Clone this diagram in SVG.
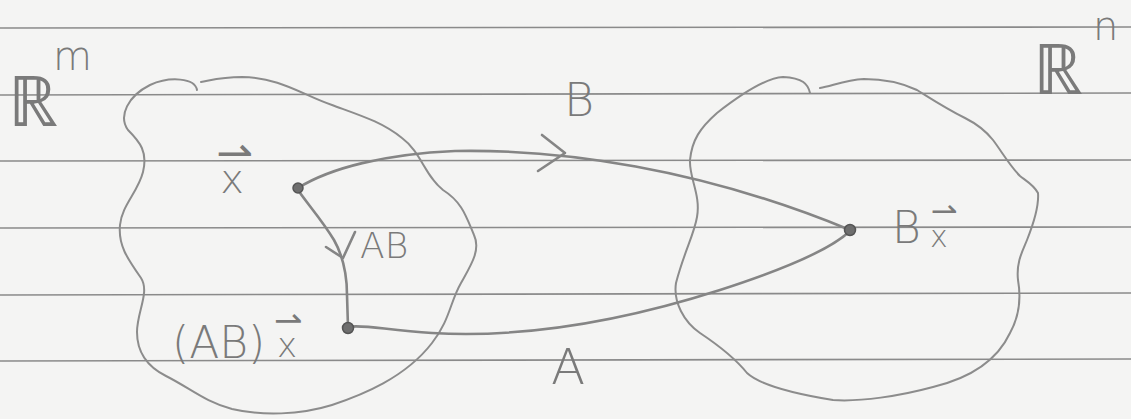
<svg xmlns="http://www.w3.org/2000/svg" width="1131" height="419" viewBox="0 0 1131 419">
  <style>
    .paper { fill: #f4f4f3; }
    .rule { stroke: #8a8a8a; stroke-width: 1.6; fill: none; }
    .pencil { stroke: #8c8c8c; stroke-width: 2; fill: none; stroke-linecap: round; stroke-linejoin: round; }
    .edge { stroke: #858585; stroke-width: 2.6; fill: none; stroke-linecap: round; stroke-linejoin: round; }
    .dot { fill: #6e6e6e; stroke: #555; stroke-width: 1.5; }
    .hand { font-family: "DejaVu Sans", "Liberation Sans", sans-serif; font-weight: 200; fill: #7a7a7a; }
    .vec { font-family: "DejaVu Sans", sans-serif; font-weight: normal; fill: #7a7a7a; }
  </style>

  <!-- ruled notebook paper -->
  <rect class="paper" x="0" y="0" width="1131" height="419"/>
  <g id="rules">
    <line class="rule" x1="0" y1="28" x2="1131" y2="27"/>
    <line class="rule" x1="0" y1="95" x2="1131" y2="93"/>
    <line class="rule" x1="0" y1="161" x2="1131" y2="160"/>
    <line class="rule" x1="0" y1="228" x2="1131" y2="227"/>
    <line class="rule" x1="0" y1="295" x2="1131" y2="293"/>
    <line class="rule" x1="0" y1="361" x2="1131" y2="359"/>
  </g>

  <!-- domain R^m -->
  <g id="domain">
    <path class="pencil" d="M197,90 C195,78 170,76 150,85 C128,96 118,116 128,130 C140,142 148,152 143,172 C138,192 122,205 120,225 C118,245 127,258 141,278 C150,292 137,312 137,332 C137,352 146,366 166,376 C190,388 205,402 232,409 C262,416 300,415 332,405 C362,395 405,378 432,343 C450,320 450,302 461,283 C471,265 481,250 474,235 C466,216 462,202 443,190 C425,176 421,152 402,138 C382,122 362,116 332,105 C302,95 282,78 242,77 C222,77 212,80 201,82"/>
    <text class="hand" x="8" y="126" font-size="70">ℝ</text>
    <text class="hand" x="53" y="70" font-size="40">m</text>
  </g>

  <!-- codomain R^n -->
  <g id="codomain">
    <path class="pencil" d="M810,93 C808,84 803,78 783,77 C765,78 740,95 717,113 C700,128 692,140 690,160 C689,178 701,195 697,217 C694,235 684,252 676,283 C673,302 684,322 700,333 C718,345 735,358 747,373 C760,385 790,393 833,400 C860,402 900,396 933,387 C962,380 995,365 1010,333 C1020,315 1021,297 1018,280 C1016,262 1023,250 1027,240 C1033,225 1039,205 1038,193 C1034,185 1025,180 1020,176 C1010,166 1002,152 993,140 C985,130 977,124 965,118 C945,108 930,98 917,90 C900,82 885,79 864,79 C845,80 832,86 820,88"/>
    <text class="hand" x="1033" y="94" font-size="70">ℝ</text>
    <text class="hand" x="1093" y="40" font-size="40">n</text>
  </g>

  <!-- maps between the spaces -->
  <g id="connectors">
    <!-- B : x -> Bx -->
    <path id="map-B" class="edge" d="M298,188 C330,168 385,154 455,151 C560,149 700,168 850,230"/>
    <path class="edge" d="M542,135 L565,153 L538,171"/>
    <!-- AB : x -> (AB)x -->
    <path id="map-AB" class="edge" d="M298,190 C306,202 322,220 334,240 C343,256 347,275 347,295 L348,327"/>
    <path class="edge" d="M326,247 L343,258 L355,232"/>
    <!-- A : Bx -> (AB)x -->
    <path id="map-A" class="edge" d="M348,327 C362,324 385,330 432,333 C520,338 620,322 720,290 C782,270 830,250 850,231"/>
  </g>

  <!-- edge labels -->
  <text class="hand" x="564" y="116" font-size="46">B</text>
  <text class="hand" x="360" y="258" font-size="36">AB</text>
  <text class="hand" x="551" y="384" font-size="50">A</text>

  <!-- points; the vector harpoon rides above each x in the same text run -->
  <g id="point-x">
    <circle class="dot" cx="298" cy="188" r="5"/>
    <text class="hand" x="216" y="193" font-size="40">x<tspan class="vec" dx="-28" dy="-25" font-size="44">⇀</tspan></text>
  </g>
  <g id="point-ABx">
    <circle class="dot" cx="348" cy="328" r="5.5"/>
    <text class="hand" x="172" y="358" font-size="44">(AB)</text>
    <text class="hand" x="274" y="357" font-size="34">x<tspan class="vec" dx="-23" dy="-25" font-size="34">⇀</tspan></text>
  </g>
  <g id="point-Bx">
    <circle class="dot" cx="850" cy="230" r="5.5"/>
    <text class="hand" x="892" y="243" font-size="44">B</text>
    <text class="hand" x="930" y="247" font-size="30">x<tspan class="vec" dx="-17" dy="-25" font-size="32">⇀</tspan></text>
  </g>
</svg>
